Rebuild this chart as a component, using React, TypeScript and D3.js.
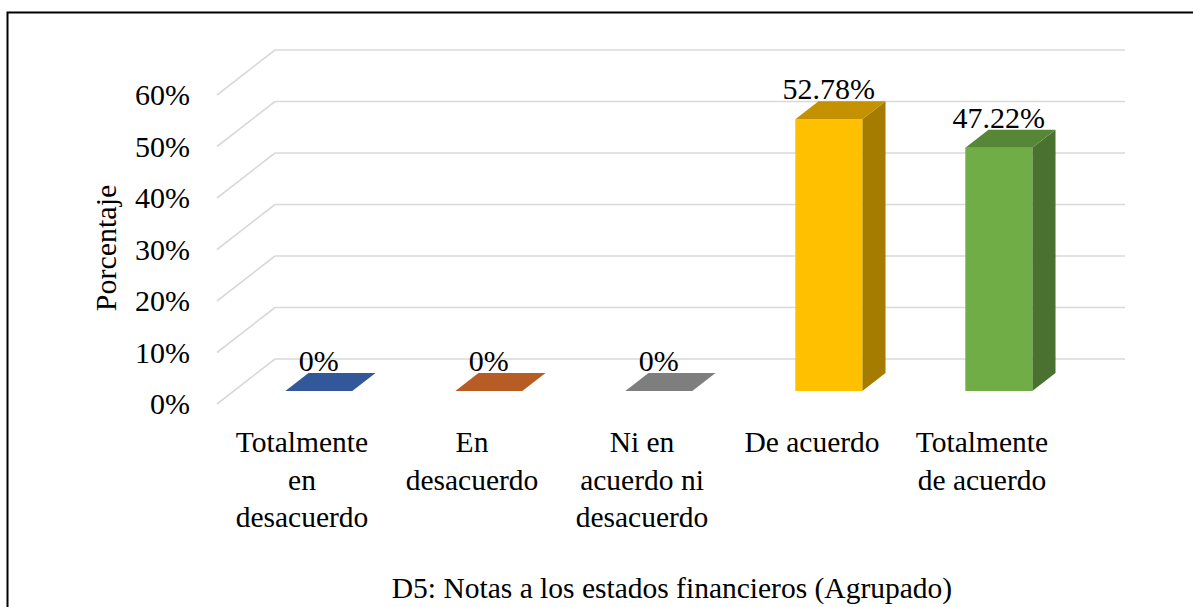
import * as d3 from 'd3';

const categories = [
  ["Totalmente", "en", "desacuerdo"],
  ["En", "desacuerdo"],
  ["Ni en", "acuerdo ni", "desacuerdo"],
  ["De acuerdo"],
  ["Totalmente", "de acuerdo"],
];
const values = [0, 0, 0, 52.78, 47.22];
const valueLabels = ["0%", "0%", "0%", "52.78%", "47.22%"];
const yTicks = [0, 10, 20, 30, 40, 50, 60];

// front / side / top shades per bar
const frontColors = ["#4472C4", "#ED7D31", "#A5A5A5", "#FFC000", "#70AD47"];
const sideColors = ["#2C4A80", "#9A5120", "#6B6B6B", "#A67C00", "#4A712F"];
const topColors = ["#335899", "#B55D24", "#7E7E7E", "#C49100", "#558737"];

const title = "D5: Notas a los estados financieros (Agrupado)";
const yTitle = "Porcentaje";

const W = 1193;
const H = 607;
const FONT = "'Liberation Serif', 'Times New Roman', serif";

// oblique projection: full depth shifts points by (DX, DY)
const DX = -58;
const DY = 45;
const barBack = 0.31;
const barFront = 0.71;

export default function App() {
  const x = d3.scaleBand<number>()
    .domain(d3.range(values.length))
    .range([275, 1125]);
  const y = d3.scaleLinear().domain([0, 60]).range([359, 50]);
  const barW = 67;

  const proj = (px: number, v: number, d: number): [number, number] => [px + d * DX, y(v) + d * DY];
  const poly = (pts: [number, number][]) => pts.map(p => p.join(",")).join(" ");

  return (
    <svg width={W} height={H} style={{ position: "absolute", left: 0, top: 0, background: "#fff" }}
      fontFamily={FONT}>
      <rect x={7.5} y={12.5} width={1300} height={700} fill="none" stroke="#000" strokeWidth={2} />

      {/* gridlines: back wall + left wall */}
      <g stroke="#D9D9D9" strokeWidth={1.6} fill="none">
        {yTicks.map(t => {
          const [fx, fy] = proj(275, t, 1);
          return (
            <g key={t}>
              <line x1={275} x2={1125} y1={y(t)} y2={y(t)} />
              <line x1={275} y1={y(t)} x2={fx} y2={fy} />
            </g>
          );
        })}
      </g>

      {/* y tick labels */}
      <g fontSize={30} textAnchor="end" fill="#000">
        {yTicks.map(t => (
          <text key={t} x={190} y={y(t) + DY + 10}>{t}%</text>
        ))}
      </g>

      <text transform={`translate(116,248) rotate(-90)`} textAnchor="middle" fontSize={30}>{yTitle}</text>

      {/* bars */}
      {values.map((v, i) => {
        const x0 = (x(i) as number) + (x.bandwidth() - barW) / 2;
        const x1 = x0 + barW;
        const fbl = proj(x0, 0, barFront), fbr = proj(x1, 0, barFront);
        const ftl = proj(x0, v, barFront), ftr = proj(x1, v, barFront);
        const btl = proj(x0, v, barBack), btr = proj(x1, v, barBack);
        const bbr = proj(x1, 0, barBack);
        return (
          <g key={i}>
            {v > 0 && <polygon points={poly([fbr, ftr, btr, bbr])} fill={sideColors[i]} />}
            {v > 0 && <polygon points={poly([fbl, fbr, ftr, ftl])} fill={frontColors[i]} />}
            <polygon points={poly([ftl, ftr, btr, btl])} fill={topColors[i]} />
          </g>
        );
      })}

      {/* value labels */}
      <g fontSize={30} textAnchor="middle" fill="#000">
        {values.map((v, i) => {
          const cx = (x(i) as number) + x.bandwidth() / 2 + barFront * DX;
          return <text key={i} x={cx} y={y(v) + barBack * DY - 2}>{valueLabels[i]}</text>;
        })}
      </g>

      {/* category labels */}
      <g fontSize={29.5} textAnchor="middle" fill="#000">
        {categories.map((lines, i) => {
          const cx = (x(i) as number) + x.bandwidth() / 2 + DX;
          return (
            <text key={i} x={cx} y={452}>
              {lines.map((l, j) => (
                <tspan key={j} x={cx} dy={j === 0 ? 0 : 37.5}>{l}</tspan>
              ))}
            </text>
          );
        })}
      </g>

      <text x={672} y={598} textAnchor="middle" fontSize={29.5}>{title}</text>
    </svg>
  );
}
